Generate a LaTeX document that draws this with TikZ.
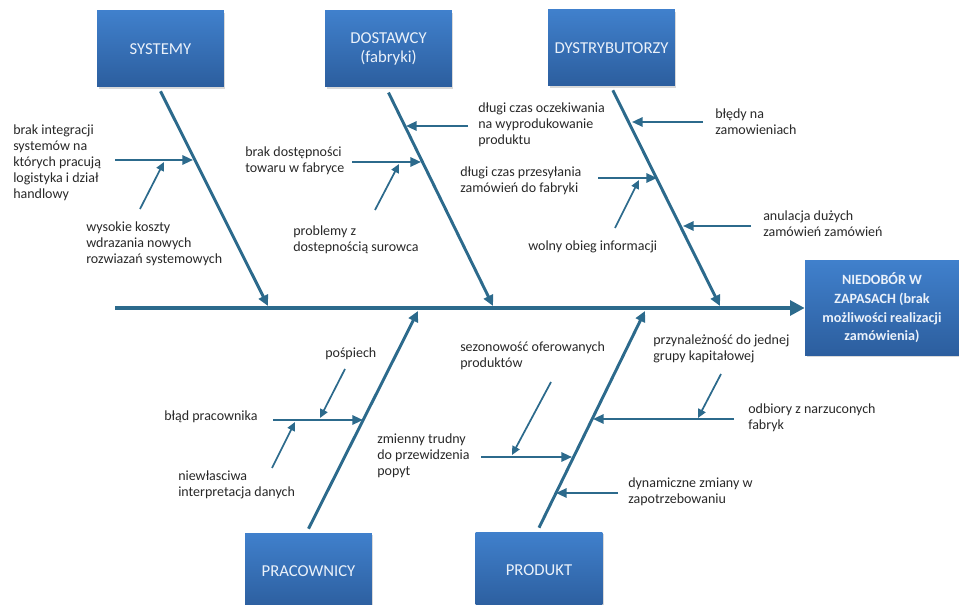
\documentclass[tikz,border=0pt]{standalone}
\usepackage{fontspec}
\setmainfont{Carlito}
\usepackage{tikz}
\usetikzlibrary{positioning, arrows.meta, shadows, calc}

\definecolor{fishline}{RGB}{44,106,140}
\definecolor{boxtop}{RGB}{64,128,204}
\definecolor{boxbot}{RGB}{44,94,158}
\definecolor{labeltxt}{RGB}{40,40,40}
\definecolor{boxtxt}{RGB}{234,241,250}

\tikzset{
  catbox/.style  = {rectangle, top color=boxtop, bottom color=boxbot,
                    minimum width=95pt, minimum height=57pt,
                    align=center, text=boxtxt,
                    font=\fontsize{12.5}{14.5}\selectfont,
                    drop shadow={shadow xshift=1.2pt, shadow yshift=-1.2pt,
                                 opacity=0.3}},
  effbox/.style  = {catbox, minimum width=115.5pt, minimum height=71pt,
                    font=\bfseries\fontsize{10.6}{14}\selectfont},
  cause/.style   = {anchor=west, align=left, inner sep=0pt,
                    text=labeltxt, font=\fontsize{10.5}{12}\selectfont},
  mainarr/.style = {-{Triangle[length=11pt, width=11pt]},
                    line width=3pt, draw=fishline},
  bonearr/.style = {-{Triangle[length=8pt, width=7.5pt]},
                    line width=2.2pt, draw=fishline},
  subarr/.style  = {-{Triangle[length=8pt, width=7pt]},
                    line width=1.6pt, draw=fishline},
  twigarr/.style = {-{Triangle[length=6.5pt, width=6pt]},
                    line width=1.3pt, draw=fishline},
}

\begin{document}
\begin{tikzpicture}[x=0.75pt, y=-0.75pt]
    \useasboundingbox (0,0) rectangle (959,605);

    % categories
    \node[catbox] (sys)  at (160.5,49) {SYSTEMY};
    \node[catbox] (dost) at (388.5,49) {DOSTAWCY\\(fabryki)};
    \node[catbox] (dyst) at (611.5,48) {DYSTRYBUTORZY};
    \node[catbox] (prac) at (308.5,571) {PRACOWNICY};
    \node[catbox] (prod) at (539,570) {PRODUKT};

    \node[effbox] (eff) at (882,308)
        {NIEDOBÓR W\\ZAPASACH (brak\\możliwości realizacji\\zamówienia)};

    % spine and bones
    \coordinate (tail) at (115,308);
    \coordinate (j1) at (268,306);
    \coordinate (j2) at (493,306);
    \coordinate (j3) at (720,306);
    \coordinate (j4) at (418,311);
    \coordinate (j5) at (645,311);

    \draw[mainarr] (tail) -- (eff.west);
    \draw[bonearr] ([yshift=-3pt]sys.south) -- (j1);
    \draw[bonearr] ([yshift=-4pt]dost.south) -- (j2);
    \draw[bonearr] ([xshift=1pt, yshift=-3pt]dyst.south) -- (j3);
    \draw[bonearr] ([yshift=3pt]prac.north) -- (j4);
    \draw[bonearr] ([yshift=3pt]prod.north) -- (j5);

    % SYSTEMY
    \node[cause] (c11) at (13,163)
        {brak integracji\\systemów na\\których pracują\\logistyka i dział\\handlowy};
    \node[cause] (c12) at (86,244)
        {wysokie koszty\\wdrazania nowych\\rozwiazań systemowych};
    \coordinate (a11) at (115,160);  \coordinate (t11) at (193,160);
    \coordinate (a12) at (140,209);  \coordinate (t12) at (164,162);
    \draw[subarr]  (a11) -- (t11);
    \draw[twigarr] (a12) -- (t12);

    % DOSTAWCY
    \node[cause] (c21) at (245,161) {brak dostępności\\towaru w fabryce};
    \node[cause] (c22) at (293,240) {problemy z\\dostepnością surowca};
    \node[cause] (c23) at (478,125)
        {długi czas oczekiwania\\na wyprodukowanie\\produktu};
    \coordinate (a21) at (352,162);  \coordinate (t21) at (421,162);
    \coordinate (a22) at (375,210);  \coordinate (t22) at (399,164);
    \coordinate (a23) at (468,126);  \coordinate (t23) at (406,126);
    \draw[subarr]  (a21) -- (t21);
    \draw[twigarr] (a22) -- (t22);
    \draw[subarr]  (a23) -- (t23);

    % DYSTRYBUTORZY
    \node[cause] (c31) at (460,181) {długi czas przesyłania\\zamówień do fabryki};
    \node[cause] (c32) at (528,247) {wolny obieg informacji};
    \node[cause] (c33) at (715,122) {błędy na\\zamowieniach};
    \node[cause] (c34) at (763,224) {anulacja dużych\\zamówień zamówień};
    \coordinate (a31) at (598,178);  \coordinate (t31) at (657,178);
    \coordinate (a32) at (615,228);  \coordinate (t32) at (639,180);
    \coordinate (a33) at (703,122);  \coordinate (t33) at (632,122);
    \coordinate (a34) at (751,226);  \coordinate (t34) at (683,226);
    \draw[subarr]  (a31) -- (t31);
    \draw[twigarr] (a32) -- (t32);
    \draw[subarr]  (a33) -- (t33);
    \draw[subarr]  (a34) -- (t34);

    % PRACOWNICY
    \node[cause] (c41) at (325,354) {pośpiech};
    \node[cause] (c42) at (164,417) {błąd pracownika};
    \node[cause] (c43) at (178,485) {niewłasciwa\\interpretacja danych};
    \coordinate (a41) at (273,420);  \coordinate (t41) at (363,420);
    \coordinate (a42) at (345,369);  \coordinate (t42) at (320,418);
    \coordinate (a43) at (272,468);  \coordinate (t43) at (295,422);
    \draw[subarr]  (a41) -- (t41);
    \draw[twigarr] (a42) -- (t42);
    \draw[twigarr] (a43) -- (t43);

    % PRODUKT
    \node[cause] (c51) at (377,456) {zmienny trudny\\do przewidzenia\\popyt};
    \node[cause] (c52) at (460,356) {sezonowość oferowanych\\produktów};
    \node[cause] (c53) at (653,349) {przynależność do jednej\\grupy kapitałowej};
    \node[cause] (c54) at (748,418) {odbiory z narzuconych\\fabryk};
    \node[cause] (c55) at (628,492) {dynamiczne zmiany w\\zapotrzebowaniu};
    \coordinate (a51) at (481,457);  \coordinate (t51) at (572,457);
    \coordinate (a52) at (551,382);  \coordinate (t52) at (512,455);
    \coordinate (a53) at (734,419);  \coordinate (t53) at (593,419);
    \coordinate (a54) at (721,374);  \coordinate (t54) at (698,418);
    \coordinate (a55) at (618,493);  \coordinate (t55) at (556,493);
    \draw[subarr]  (a51) -- (t51);
    \draw[twigarr] (a52) -- (t52);
    \draw[subarr]  (a53) -- (t53);
    \draw[twigarr] (a54) -- (t54);
    \draw[subarr]  (a55) -- (t55);

\end{tikzpicture}
\end{document}
